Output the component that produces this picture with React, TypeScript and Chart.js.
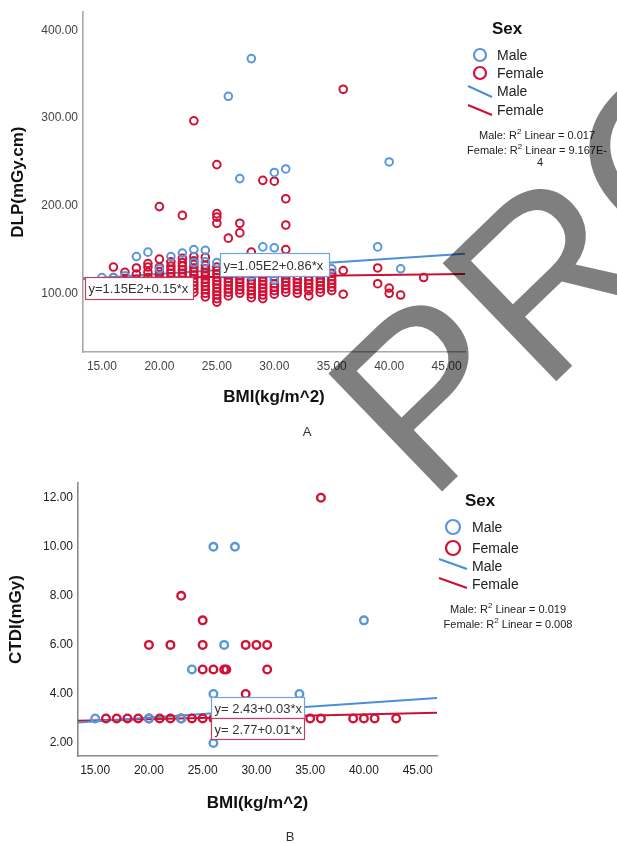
import React, { useEffect, useRef } from 'react';
import { Chart, registerables } from 'chart.js';

Chart.register(...registerables);

const FONT = '"Liberation Sans", Arial, Helvetica, sans-serif';
const BLUE = 'rgb(88,152,218)';
const RED = 'rgb(208,18,54)';
const BLUE_LINE = 'rgb(74,144,214)';
const RED_LINE = 'rgb(204,16,50)';

// ---------- Panel A : DLP vs BMI ----------
const xTicksA = [15, 20, 25, 30, 35, 40, 45];
const yTicksA = [100, 200, 300, 400];
const xRangeA = [13.35, 46.6];
const yRangeA = [33, 421];

const maleA: [number, number][] = [
  [28, 368], [26, 325], [27, 231], [30, 238], [31, 242], [40, 250],
  [29, 153], [30, 152], [39, 153], [41, 128],
  [15, 118], [16, 118], [17, 120], [18, 142], [19, 147], [20, 128],
  [21, 142], [22, 146], [23, 150], [24, 149], [23, 135], [24, 136],
  [25, 135], [26, 132], [27, 128], [28, 120], [30, 115], [34, 124], [35, 128],
];

const femaleA: [number, number][] = [
  [20, 199], [22, 189], [23, 297], [25, 247], [25, 191], [25, 187], [25, 180],
  [26, 163], [27, 180], [27, 169], [29, 229], [30, 228], [31, 208], [31, 178],
  [31, 150], [28, 147], [36, 333],
  [16, 130], [16, 118], [17, 124], [17, 117], [18, 129], [18, 122], [18, 116],
  [19, 134], [19, 130], [19, 124], [19, 118],
  [20, 139], [20, 130], [20, 125], [20, 121], [20, 116], [20, 111], [20, 106],
  [21, 136], [21, 131], [21, 127], [21, 123], [21, 119], [21, 115], [21, 111], [21, 107], [21, 103],
  [22, 140], [22, 135], [22, 131], [22, 127], [22, 123], [22, 119], [22, 115], [22, 111], [22, 107], [22, 103], [22, 99],
  [23, 142], [23, 137], [23, 133], [23, 129], [23, 125], [23, 121], [23, 117], [23, 113], [23, 109], [23, 105], [23, 101],
  [24, 141], [24, 132], [24, 128], [24, 124], [24, 120], [24, 116], [24, 112], [24, 108], [24, 104], [24, 100], [24, 96],
  [25, 130], [25, 126], [25, 122], [25, 118], [25, 114], [25, 110], [25, 106], [25, 102], [25, 98], [25, 94], [25, 90],
  [26, 133], [26, 129], [26, 125], [26, 121], [26, 117], [26, 113], [26, 109], [26, 105], [26, 101], [26, 97],
  [27, 132], [27, 124], [27, 120], [27, 116], [27, 112], [27, 108], [27, 104], [27, 100],
  [28, 131], [28, 127], [28, 123], [28, 119], [28, 115], [28, 111], [28, 107], [28, 103], [28, 99], [28, 95],
  [29, 130], [29, 126], [29, 122], [29, 118], [29, 114], [29, 110], [29, 106], [29, 102], [29, 98], [29, 94],
  [30, 131], [30, 127], [30, 123], [30, 119], [30, 111], [30, 107], [30, 103], [30, 99],
  [31, 133], [31, 129], [31, 125], [31, 121], [31, 117], [31, 113], [31, 109], [31, 105], [31, 101],
  [32, 128], [32, 124], [32, 120], [32, 116], [32, 112], [32, 108], [32, 104], [32, 100],
  [33, 127], [33, 119], [33, 115], [33, 111], [33, 107], [33, 103], [33, 97],
  [34, 129], [34, 121], [34, 117], [34, 113], [34, 109], [34, 105], [34, 101],
  [35, 123], [35, 119], [35, 115], [35, 111], [35, 107], [35, 103],
  [36, 126], [36, 99], [39, 129], [39, 111], [40, 106], [40, 100], [41, 98], [43, 118],
];

const fitMaleA = [105, 0.86];
const fitFemaleA = [115, 0.15];

// ---------- Panel B : CTDI vs BMI ----------
const xTicksB = [15, 20, 25, 30, 35, 40, 45];
const yTicksB = [2, 4, 6, 8, 10, 12];
const xRangeB = [13.4, 46.8];
const yRangeB = [1.47, 12.6];

const maleB: [number, number][] = [
  [15, 3], [20, 3], [23, 3], [30, 3], [24, 5], [26, 10], [28, 10], [27, 6],
  [26, 4], [34, 4], [26, 2], [40, 7],
];

const femaleB: [number, number][] = [
  [16, 3], [17, 3], [18, 3], [19, 3], [20, 3], [21, 3], [22, 3], [23, 3], [24, 3], [25, 3],
  [26, 3], [27, 3], [28, 3], [29, 3], [30, 3], [31, 3], [32, 3], [33, 3], [34, 3], [35, 3], [36, 3],
  [39, 3], [40, 3], [41, 3], [43, 3],
  [20, 6], [22, 6], [25, 6], [29, 6], [30, 6], [31, 6],
  [25, 5], [26, 5], [27, 5], [27.2, 5], [31, 5],
  [29, 4], [25, 7], [23, 8], [36, 12],
];

const fitMaleB = [2.43, 0.03];
const fitFemaleB = [2.77, 0.01];

type Box = { x: number; y: number; w: number; h: number; text: string; color: string; size: number };

const fitLine = (fit: number[], range: number[]) =>
  range.map((x) => ({ x, y: fit[0] + fit[1] * x }));

function eqPlugin(boxes: Box[]) {
  return {
    id: 'eqBoxes',
    afterDatasetsDraw(chart: any) {
      const { ctx, scales } = chart;
      ctx.save();
      for (const b of boxes) {
        const left = Math.round(scales.x.getPixelForValue(b.x)) + 0.5;
        const top = Math.round(scales.y.getPixelForValue(b.y)) + 0.5;
        ctx.fillStyle = '#fff';
        ctx.fillRect(left, top, b.w, b.h);
        ctx.strokeStyle = b.color;
        ctx.lineWidth = 1.2;
        ctx.strokeRect(left, top, b.w, b.h);
        ctx.fillStyle = '#333';
        ctx.font = `${b.size}px ${FONT}`;
        ctx.textAlign = 'left';
        ctx.textBaseline = 'middle';
        ctx.fillText(b.text, left + 3, top + b.h / 2 + 1);
      }
      ctx.restore();
    },
  };
}

type LegendSpec = {
  sex: [number, number];
  circles: [number, number][];
  circleR: number;
  textX: number;
  circleTextY: number[];
  lines: [number, number, number, number][];
  lineTextY: number[];
  r2cx: number;
  r2: { y: number; prefix: string; suffix: string }[];
  extra?: { x: number; y: number; text: string }[];
  r2Size: number;
  caption: { x: number; y: number; text: string };
};

function drawR2(ctx: CanvasRenderingContext2D, cx: number, y: number, prefix: string, suffix: string, size: number) {
  const main = `${size}px ${FONT}`;
  const sup = `${Math.round(size * 0.75)}px ${FONT}`;
  ctx.font = main;
  const w1 = ctx.measureText(prefix).width;
  const w3 = ctx.measureText(suffix).width;
  ctx.font = sup;
  const w2 = ctx.measureText('2').width;
  let x = cx - (w1 + w2 + w3) / 2;
  ctx.textAlign = 'left';
  ctx.textBaseline = 'alphabetic';
  ctx.font = main;
  ctx.fillText(prefix, x, y);
  x += w1;
  ctx.font = sup;
  ctx.fillText('2', x, y - size * 0.42);
  x += w2;
  ctx.font = main;
  ctx.fillText(suffix, x, y);
}

function legendPlugin(spec: LegendSpec) {
  return {
    id: 'sexLegend',
    afterDraw(chart: any) {
      const ctx: CanvasRenderingContext2D = chart.ctx;
      ctx.save();
      ctx.fillStyle = '#111';
      ctx.font = `bold 17px ${FONT}`;
      ctx.textAlign = 'center';
      ctx.textBaseline = 'middle';
      ctx.fillText('Sex', spec.sex[0], spec.sex[1]);
      const colors = [BLUE, RED];
      const lineColors = [BLUE_LINE, RED_LINE];
      const names = ['Male', 'Female'];
      spec.circles.forEach(([cx, cy], i) => {
        ctx.beginPath();
        ctx.arc(cx, cy, spec.circleR, 0, Math.PI * 2);
        ctx.strokeStyle = colors[i];
        ctx.lineWidth = 2.2;
        ctx.stroke();
      });
      spec.lines.forEach(([x1, y1, x2, y2], i) => {
        ctx.beginPath();
        ctx.moveTo(x1, y1);
        ctx.lineTo(x2, y2);
        ctx.strokeStyle = lineColors[i];
        ctx.lineWidth = 2;
        ctx.stroke();
      });
      ctx.fillStyle = '#222';
      ctx.font = `14px ${FONT}`;
      ctx.textAlign = 'left';
      ctx.textBaseline = 'middle';
      names.forEach((n, i) => ctx.fillText(n, spec.textX, spec.circleTextY[i]));
      names.forEach((n, i) => ctx.fillText(n, spec.textX, spec.lineTextY[i]));
      ctx.fillStyle = '#222';
      spec.r2.forEach((r) => drawR2(ctx, spec.r2cx, r.y, r.prefix, r.suffix, spec.r2Size));
      ctx.font = `${spec.r2Size}px ${FONT}`;
      ctx.textAlign = 'center';
      (spec.extra || []).forEach((e) => ctx.fillText(e.text, e.x, e.y));
      ctx.font = `13px ${FONT}`;
      ctx.fillStyle = '#333';
      ctx.textBaseline = 'middle';
      ctx.fillText(spec.caption.text, spec.caption.x, spec.caption.y);
      ctx.restore();
    },
  };
}

function makeConfig(o: {
  male: [number, number][];
  female: [number, number][];
  fitMale: number[];
  fitFemale: number[];
  xRange: number[];
  yRange: number[];
  xTicks: number[];
  yTicks: number[];
  yTitle: string;
  yAxisWidth: number;
  xAxisHeight: number;
  padding: { left: number; top: number; right: number; bottom: number };
  xTitlePad: number;
  yTitlePad: number;
  borderColor: string;
  tickColor: string;
  pointR: number;
  pointBW: number;
  boxes: Box[];
  legend: LegendSpec;
}) {
  const tickFont = { family: FONT, size: 12 };
  const titleFont = { family: FONT, size: 17, weight: 'bold' as const };
  return {
    type: 'scatter' as const,
    data: {
      datasets: [
        {
          label: 'Male',
          data: o.male.map(([x, y]) => ({ x, y })),
          borderColor: BLUE,
          backgroundColor: 'rgba(0,0,0,0)',
          pointRadius: o.pointR,
          pointBorderWidth: o.pointBW,
          pointHoverRadius: o.pointR,
        },
        {
          label: 'Female',
          data: o.female.map(([x, y]) => ({ x, y })),
          borderColor: RED,
          backgroundColor: 'rgba(0,0,0,0)',
          pointRadius: o.pointR,
          pointBorderWidth: o.pointBW,
          pointHoverRadius: o.pointR,
        },
        {
          label: 'Male fit',
          data: fitLine(o.fitMale, o.xRange),
          showLine: true,
          borderColor: BLUE_LINE,
          borderWidth: 2,
          pointRadius: 0,
          fill: false,
        },
        {
          label: 'Female fit',
          data: fitLine(o.fitFemale, o.xRange),
          showLine: true,
          borderColor: RED_LINE,
          borderWidth: 2,
          pointRadius: 0,
          fill: false,
        },
      ],
    },
    options: {
      responsive: false,
      animation: false as const,
      devicePixelRatio: 1,
      layout: { padding: o.padding },
      plugins: { legend: { display: false }, tooltip: { enabled: false }, title: { display: false } },
      scales: {
        x: {
          type: 'linear' as const,
          min: o.xRange[0],
          max: o.xRange[1],
          afterBuildTicks: (s: any) => {
            s.ticks = o.xTicks.map((v) => ({ value: v }));
          },
          afterFit: (s: any) => {
            s.height = o.xAxisHeight;
          },
          grid: { display: false, drawTicks: false },
          border: { display: true, color: o.borderColor, width: 1.6 },
          ticks: {
            autoSkip: false,
            maxRotation: 0,
            padding: 7,
            color: o.tickColor,
            font: tickFont,
            callback: (v: any) => Number(v).toFixed(2),
          },
          title: {
            display: true,
            text: 'BMI(kg/m^2)',
            color: '#111',
            font: titleFont,
            padding: { top: 0, bottom: o.xTitlePad },
          },
        },
        y: {
          type: 'linear' as const,
          min: o.yRange[0],
          max: o.yRange[1],
          afterBuildTicks: (s: any) => {
            s.ticks = o.yTicks.map((v) => ({ value: v }));
          },
          afterFit: (s: any) => {
            s.width = o.yAxisWidth;
          },
          grid: { display: false, drawTicks: false },
          border: { display: true, color: o.borderColor, width: 1.6 },
          ticks: {
            autoSkip: false,
            padding: 5,
            color: o.tickColor,
            font: tickFont,
            callback: (v: any) => Number(v).toFixed(2),
          },
          title: {
            display: true,
            text: o.yTitle,
            color: '#111',
            font: titleFont,
            padding: { top: o.yTitlePad, bottom: 0 },
          },
        },
      },
    },
    plugins: [eqPlugin(o.boxes), legendPlugin(o.legend)],
  };
}

export default function App() {
  const refA = useRef<HTMLCanvasElement>(null);
  const refB = useRef<HTMLCanvasElement>(null);
  const refW = useRef<HTMLCanvasElement>(null);

  useEffect(() => {
    const chartA = new Chart(
      refA.current as HTMLCanvasElement,
      makeConfig({
        male: maleA,
        female: femaleA,
        fitMale: fitMaleA,
        fitFemale: fitFemaleA,
        xRange: xRangeA,
        yRange: yRangeA,
        xTicks: xTicksA,
        yTicks: yTicksA,
        yTitle: 'DLP(mGy.cm)',
        yAxisWidth: 83,
        xAxisHeight: 78,
        padding: { left: 0, top: 12, right: 152, bottom: 30 },
        xTitlePad: 22,
        yTitlePad: 8,
        borderColor: '#a8a8a8',
        tickColor: '#444',
        pointR: 3.8,
        pointBW: 2,
        boxes: [
          { x: 13.52, y: 118.3, w: 108, h: 22, text: 'y=1.15E2+0.15*x', color: 'rgb(200,60,90)', size: 13 },
          { x: 25.26, y: 145.7, w: 109, h: 23, text: 'y=1.05E2+0.86*x', color: 'rgb(110,165,225)', size: 13 },
        ],
        legend: {
          sex: [507, 29],
          circles: [[480, 55], [480, 73]],
          circleR: 6,
          textX: 497,
          circleTextY: [56, 74],
          lines: [[468, 86, 492, 97], [468, 105, 492, 115]],
          lineTextY: [92, 111],
          r2cx: 537,
          r2Size: 11,
          r2: [
            { y: 139, prefix: 'Male: R', suffix: ' Linear = 0.017' },
            { y: 154, prefix: 'Female: R', suffix: ' Linear = 9.167E-' },
          ],
          extra: [{ x: 540, y: 166, text: '4' }],
          caption: { x: 307, y: 432, text: 'A' },
        },
      }) as any
    );

    const chartB = new Chart(
      refB.current as HTMLCanvasElement,
      makeConfig({
        male: maleB,
        female: femaleB,
        fitMale: fitMaleB,
        fitFemale: fitFemaleB,
        xRange: xRangeB,
        yRange: yRangeB,
        xTicks: xTicksB,
        yTicks: yTicksB,
        yTitle: 'CTDI(mGy)',
        yAxisWidth: 78,
        xAxisHeight: 77,
        padding: { left: 0, top: 23, right: 180, bottom: 10 },
        xTitlePad: 19,
        yTitlePad: 6,
        borderColor: '#8a8a8a',
        tickColor: '#222',
        pointR: 3.8,
        pointBW: 2.4,
        boxes: [
          { x: 25.77, y: 3.88, w: 93, h: 21, text: 'y= 2.43+0.03*x', color: 'rgb(110,165,225)', size: 13 },
          { x: 25.77, y: 3.02, w: 93, h: 21, text: 'y= 2.77+0.01*x', color: 'rgb(200,60,90)', size: 13 },
        ],
        legend: {
          sex: [480, 41],
          circles: [[453, 67], [453, 88]],
          circleR: 7,
          textX: 472,
          circleTextY: [68, 89],
          lines: [[439, 99, 467, 109], [439, 118, 467, 128]],
          lineTextY: [107, 125],
          r2cx: 508,
          r2Size: 11,
          r2: [
            { y: 153, prefix: 'Male: R', suffix: ' Linear = 0.019' },
            { y: 168, prefix: 'Female: R', suffix: ' Linear = 0.008' },
          ],
          caption: { x: 290, y: 377, text: 'B' },
        },
      }) as any
    );

    // watermark overlay
    const wc = refW.current as HTMLCanvasElement;
    const wctx = wc.getContext('2d') as CanvasRenderingContext2D;
    wctx.clearRect(0, 0, wc.width, wc.height);
    wctx.save();
    wctx.translate(428, 505);
    wctx.rotate((-44 * Math.PI) / 180);
    wctx.font = `238px ${FONT}`;
    wctx.fillStyle = 'rgba(0,0,0,0.5)';
    wctx.textBaseline = 'alphabetic';
    wctx.fillText('PRO', 0, 0);
    wctx.restore();

    return () => {
      chartA.destroy();
      chartB.destroy();
    };
  }, []);

  return (
    <div
      style={{
        position: 'absolute',
        left: 0,
        top: 0,
        width: 617,
        height: 843,
        background: '#fff',
        overflow: 'hidden',
      }}
    >
      <canvas ref={refA} width={617} height={460} style={{ position: 'absolute', left: 0, top: 0 }} />
      <canvas ref={refB} width={617} height={383} style={{ position: 'absolute', left: 0, top: 460 }} />
      <canvas
        ref={refW}
        width={617}
        height={843}
        style={{ position: 'absolute', left: 0, top: 0, pointerEvents: 'none' }}
      />
    </div>
  );
}
